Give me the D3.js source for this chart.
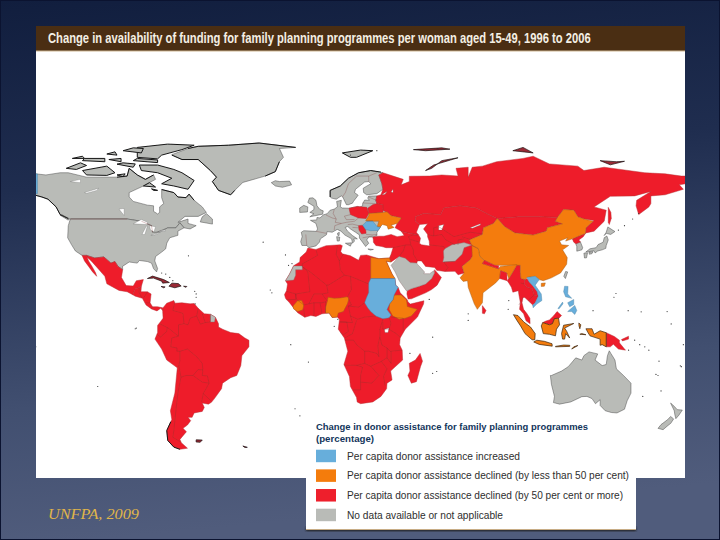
<!DOCTYPE html>
<html><head><meta charset="utf-8">
<script src="https://cdn.jsdelivr.net/npm/d3@7"></script>
<style>html,body{margin:0;padding:0;background:#14213f}svg{display:block}</style>
</head><body><svg id="c" width="720" height="540"></svg>
<script>
// ---------- text and categories ----------
const titleText = "Change in availability of funding for family planning programmes per woman aged 15-49, 1996 to 2006";
const legendTitle = ["Change in donor assistance for family planning programmes", "(percentage)"];
const legendLabels = [
  "Per capita donor assistance increased",
  "Per capita donor assistance declined (by less than 50 per cent)",
  "Per capita donor assistance declined (by 50 per cent or more)",
  "No data available or not applicable"];
const legendWidths = [173, 282, 276, 156];
const legendColors = ["#67aedb", "#f47c0c", "#ee1f2c", "#b9bbb7"];
const sourceText = "UNFPA, 2009";

// ---------- geography: rings of [longitude, latitude] ----------
const grayBase = [
 // Canada
 [[-141,69.6],[-135,69],[-128,70],[-124,70],[-115,68],[-108,68],[-100,68],[-95,68.5],[-94,72],[-90,69],[-86,67],[-82,69],[-81,67],[-87,64],[-94,61],[-94,59],[-92,57],[-85,55.3],[-82,55],[-82,52.5],[-80,51.3],[-79,52],[-79,54.5],[-77,56],[-78,58.7],[-78,62.4],[-72,61],[-70,59],[-66,58.7],[-64.5,60.3],[-62,57.5],[-58,54.5],[-56,52],[-60,50.2],[-66.5,50.2],[-70,47.5],[-65,49],[-65,47],[-61,46],[-64,44.5],[-67,45],[-69,47.3],[-71,45],[-75,45],[-79,43.5],[-83,42],[-82.5,45],[-88,48],[-95,49],[-123,49],[-128,51],[-130,54.5],[-134,58],[-137,59],[-141,60]],
 // USA
 [[-123,49],[-95,49],[-88,48],[-83,46],[-82.5,43],[-79,43],[-75,45],[-71,45],[-69,47.3],[-67,45],[-70,43.5],[-70,41.6],[-74,40.5],[-75.5,38],[-76,35.5],[-78,34],[-81,32],[-81.4,30],[-80,26.5],[-80.5,25],[-82,26.5],[-83,29],[-85,29.7],[-89,30.2],[-90,29],[-94,29.5],[-97.3,27.5],[-97.2,26],[-99.5,27.5],[-101,29.7],[-103,29],[-106.5,31.8],[-111,31.3],[-115,32.5],[-117.2,32.5],[-120.5,34.5],[-122.5,37.5],[-124.3,40.5],[-124,46]],
 [[-59,47.7],[-53,46.7],[-53,49],[-56,51.5],[-58,50]],
 [[-128,50.7],[-124,48.5],[-123.5,49],[-127,50.9]],
 // Greenland, Iceland
 [[-73,78.2],[-68,76],[-60,76],[-54,71],[-51,68],[-53,66],[-50,62],[-44,60],[-42,62],[-38,65.6],[-27,68.5],[-22,70.5],[-20,75],[-18,77],[-20,81],[-12,81.5],[-30,83.5],[-45,82.5],[-60,82],[-65,81]],
 [[-24,65.5],[-22,64],[-18.5,63.4],[-14,64.5],[-15,66.2],[-20,66],[-22,66.4]],
 // Europe
 [[28,59.5],[24,59.4],[23.5,58.5],[24.3,57.5],[22,57.6],[21,56],[21,55],[19.5,54.4],[18.5,54.7],[14.3,53.9],[11,54],[10,54.5],[10.5,57.5],[8.2,57],[8.6,54.5],[7,53.5],[5,53],[3.5,51.4],[1.7,50.9],[0,49.5],[-1.5,49.7],[-1.6,48.6],[-4.7,48.4],[-2,47],[-1.2,44.5],[-1.8,43.4],[-8,43.7],[-9.2,43],[-8.8,41],[-9.5,38.7],[-8.9,37],[-6.5,37],[-5.5,36],[-2,36.8],[-0.3,38.5],[0.2,40],[3.2,41.9],[3.5,43.3],[6,43],[8.5,44.3],[10.3,43.5],[12.3,41.7],[15.6,40],[16,38],[17,39],[16.6,40],[18.4,40],[16,41.5],[13.5,43.6],[12.4,45.2],[13.7,45.6],[15,44.5],[17.5,43],[19.4,41.8],[19.4,40.4],[21,38.4],[22.5,36.5],[24,38],[23,39.5],[24,40.8],[26,40.8],[28.1,41.5],[28,42.8],[28.6,43.8],[29.7,45.2],[30,46],[33,52],[31,55],[28,56],[27.5,57.5]],
 [[5,59],[5,62],[10,64],[14,67.5],[19,70],[25,71],[31,70],[29,69],[30.5,65],[31,62.5],[28,60.5],[23,60],[21.5,61],[21.3,63],[25,65],[24,66],[22,65.8],[17.5,62.5],[17,61],[18.8,59.8],[16.5,57],[16,56.2],[14,55.5],[13,55.5],[11.2,59],[10.5,59.5],[8,58],[5.7,58.5]],
 [[-5,50],[1.3,51.2],[1.6,52.7],[0,53.3],[-1.5,55],[-2,57.5],[-3.5,58.6],[-5.2,58.5],[-6,56.5],[-3,54.8],[-3,53.3],[-5,52],[-3,51.4]],
 [[-10,52],[-6.2,52.2],[-6,54.5],[-8,55.2],[-10,54]],
 [[8.2,41],[9.7,40.8],[9.5,39],[8.5,39]],[[8.6,42.5],[9.5,43],[9.4,41.5],[8.8,41.6]],
 [[12.5,38],[15.6,38.2],[15,36.7]],[[23.6,35.4],[26.3,35.2],[24.8,34.9]],
 // Australia, New Zealand
 [[113.5,-22],[114,-26],[115.5,-31.5],[115,-34.3],[118,-35],[123.5,-34],[129,-31.6],[131.5,-31.5],[134,-32.5],[135.7,-34.8],[138,-33],[138,-35.6],[140.5,-38],[143.5,-38.8],[146.3,-39],[150,-37.3],[151.3,-33.5],[153.2,-30],[153.2,-25.5],[149.5,-22],[146,-19],[145.3,-15],[143.3,-12],[142.5,-10.8],[141.6,-13],[141,-17],[139,-17.5],[135.5,-15],[136.8,-12.2],[132.5,-11.3],[130,-13],[129,-15],[126,-14],[122.3,-18],[119,-20],[114,-22]],
 [[144.7,-40.8],[148.2,-40.9],[148,-43],[146,-43.6],[145,-42]],
 [[172.7,-34.5],[174.5,-36],[176,-37.5],[178.5,-37.7],[176.8,-40],[175.3,-41.6],[174.8,-39.8],[174.5,-38]],
 [[172.7,-40.6],[174.2,-41.7],[172.8,-43.7],[171,-45],[169,-46.6],[166.5,-46],[168,-44.3],[171.3,-42]],
 // Japan, South Korea, Taiwan
 [[130.9,34],[133,35.5],[136,36],[137,37.4],[139.5,38.5],[140,40.5],[141.3,41.3],[142,39.5],[141,37],[140.8,35.7],[139,35],[136.8,34.5],[135.5,33.6],[135,34.6]],
 [[130,33.5],[131.8,33.7],[131.3,31.4],[130.3,31.3]],[[132.5,34],[134.5,34.2],[134,33.3],[132.7,33]],
 [[140,41.5],[141,43],[141.8,45.4],[145.3,43.3],[143.2,42],[141,42.5]],
 [[126,37.8],[128.3,38.6],[129.4,36],[129,35],[126.5,34.4],[126.5,36.5]],
 [[121,25.2],[122,25],[120.9,22],[120.1,23]]
];
const arcticIslands = [
 [[-80,73.5],[-72,71.5],[-68,70],[-62,66.5],[-65,62.5],[-72,64],[-78,65],[-73,67.5],[-80,70],[-88,71],[-89,73.5]],
 [[-117,71],[-105,73],[-101,70],[-105,68.8],[-115,69]],
 [[-125,72],[-118,74.5],[-115,73.3],[-120,71.5]],
 [[-90,77],[-80,76.3],[-78,78],[-68,80.5],[-62,82.5],[-75,83],[-90,81.5]],
 [[-92,75.5],[-80,74.6],[-80,75.8],[-90,76.5]],
 [[-117,75.5],[-106,75],[-106,76.5],[-116,76.5]],
 [[-97,80],[-88,79],[-87,81],[-92,81.3]],
 [[-100,73.9],[-92,72.5],[-91,74],[-97,74.5]],
 [[-87,64],[-81,63.5],[-84,65.5]],
 [[-104,76],[-98,75],[-98,76.5]],
 [[-100,69],[-96,69.5],[-97,68.2]],
 [[-122,76.5],[-116,76.5],[-117,77.5]],
 [[-105,78.5],[-100,78],[-101,79.5]],
 [[-83,62.7],[-80,62],[-82,62]],
 [[11,79],[20,80.3],[26,80],[18,77],[15,77]]
];
const ruggedCoasts = [
 [[-141,60],[-137,59],[-134,58],[-130,54.5],[-128,51],[-124,49.2]],
 [[5,59],[5,62],[10,64],[14,67.5],[19,70],[25,71],[30,70.3]],
 [[-73,78],[-68,76],[-60,76],[-54,71],[-51,68],[-53,66],[-50,62],[-44,60],[-42,62]],
 [[-65,81],[-60,82],[-45,82.5],[-30,83.5],[-12,81.5]],
 [[-27,68.5],[-22,70.5],[-20,75]],
 [[-72,-54.5],[-75,-51.5],[-75.5,-47],[-73.5,-43]],
 [[-69,-55.5],[-72,-54.5]],
 [[-78,62.4],[-72,61],[-70,59],[-66,58.7],[-64.5,60.3],[-62,57.5]],
 [[-100,68],[-95,68.5],[-94,72],[-90,69],[-86,67],[-82,69]]
];
const redRegions = [
 // Russia
 [[28,59.5],[30,60],[31,62.5],[30.5,65],[29,69],[31,70],[41,67],[40,64.5],[44,66],[44,68.4],[54,68.5],[60,69],[68,68.5],[67,72],[73,72.5],[73,68],[75,72.5],[80,73],[87,75],[100,76.5],[105,77.5],[113,74],[127,73],[130,71],[140,72.5],[160,70],[170,69.5],[178,68.5],[180,68.5],[180,65],[177,64.5],[179,62.5],[170,60],[163,59.5],[163,56],[162,54.5],[157,51],[155.7,55],[156,57.5],[163,61.5],[155,59.5],[143,59.3],[135,54.5],[141,53],[140,48],[135,43.5],[131,42.7],[130.7,42.4],[131,45],[135,48.3],[130,49],[127,50],[125,53],[120,53.3],[117,49.7],[108,50],[98,50],[87.3,49.2],[83,51],[77,54],[69,55],[61,54],[59.5,51],[51,51.5],[47,50],[47,48],[49,46.5],[47.5,43],[48.5,41.8],[43,42.7],[40,43.5],[37,45],[38,47],[40,49.5],[35,50.5],[33,52],[31,53],[31,55.5],[28,56],[27.5,57.5]],
 // Turkey to Pakistan and Central Asia
 [[26.3,39.5],[26,40.8],[29,41.2],[31.5,41.2],[35,42],[38,41],[41.5,41.5],[40,43.5],[43,42.7],[48.5,41.8],[49.5,40.3],[49,38],[50,37.3],[54,36.8],[53.8,39],[53,41],[53,42],[51,44.5],[53,46.8],[49,46.5],[47,48],[47,50],[51,51.5],[59.5,51],[61,54],[69,55],[77,54],[83,51],[87.3,49.2],[85.5,47],[80.5,45],[80,42],[73.6,39.5],[74.8,37.2],[78,35.5],[75,32],[74,30.5],[70,27.5],[71,24.5],[68,23.7],[66.5,25.3],[61.6,25.2],[57.5,25.7],[56.5,27],[52,27.5],[50,30],[48,30],[47.7,29],[44.5,29.2],[39,32],[35,29.5],[34.2,31.3],[35,33],[36,36],[32.5,36],[30.5,36.5],[27.5,37],[26.3,38.5]],
 // Mongolia
 [[87.3,49.2],[91,45.5],[96,42.7],[105,41.7],[111.5,43.5],[112,45],[119.5,46.8],[116,48],[117,49.7],[108,50],[98,50]],
 // Yemen and Oman
 [[43,16.5],[45,17.4],[49,18.5],[52,19.5],[55,22],[56.4,24.5],[56.4,26],[59.8,22.5],[57.7,19],[55,17],[52,15.5],[45,12.8],[43.4,12.7],[42.8,15]],
 // Mexico and Baja
 [[-115,32.5],[-111,31.3],[-106.5,31.8],[-103,29],[-101,29.7],[-99.5,27.5],[-97.2,26],[-97.8,22.5],[-95.5,18.8],[-92,18.6],[-90.5,21],[-87,21.5],[-88,18.5],[-89,17.9],[-91,17.2],[-92.2,14.6],[-95,16],[-99,16.6],[-105,19.6],[-106,23],[-109.5,26.7],[-112.7,30],[-114.7,31.7]],
 [[-117.2,32.5],[-116,30],[-114,27.5],[-112,25],[-110,23],[-110.5,24.5],[-112,27],[-114,30],[-114.7,31.7],[-115,32.5]],
 // Central America
 [[-92.2,14.6],[-91,17.2],[-89,17.9],[-88,18.5],[-88.2,16],[-85,16],[-83.2,15],[-83.7,11],[-82.5,9.2],[-80,9.2],[-77.5,8.7],[-77.5,7.5],[-78.5,8.5],[-80.3,7.3],[-83,8.2],[-85.7,10],[-87.5,13],[-91,14]],
 // South America
 [[-77.5,8.5],[-75.5,10.8],[-72,12],[-71.5,10.8],[-68,11],[-64,10.5],[-62,10.7],[-60,8.5],[-57,6],[-54,5.8],[-51.5,4.4],[-50,1.5],[-50,0],[-48,-1],[-44,-2.5],[-40,-3],[-37,-5],[-35,-6],[-35,-9],[-38.5,-13],[-39,-17.5],[-41,-22],[-44,-23],[-48,-25.5],[-48.5,-28],[-52,-32.5],[-53.5,-34.2],[-55,-35],[-58,-34.5],[-57,-36.5],[-58,-38.3],[-62,-39],[-63,-41],[-65,-41],[-63.7,-42.5],[-65.3,-44.5],[-67.5,-46],[-65.8,-47.5],[-69,-51],[-68.3,-52.5],[-65.3,-55],[-69,-55.5],[-72,-54.5],[-75,-51.5],[-75.5,-47],[-73,-42],[-73.7,-38],[-71.5,-30],[-70.3,-18.5],[-75.5,-15],[-78,-10],[-81.3,-5.5],[-80,-2.5],[-80,0.7],[-78.5,2.5],[-77.3,4],[-77.5,7]],
 // Africa
 [[-6,35.8],[-2,35.2],[3,36.9],[10,37.3],[11,36.9],[10.2,34.3],[11,33.2],[15,32.3],[19,30.3],[20,32.5],[23,32.7],[29,31],[32.3,31.2],[34.2,31.3],[34.9,29.5],[32.6,29.9],[33.5,28],[35.5,24],[37,21.5],[37.3,19],[38.5,18],[39.5,15.5],[43,12.4],[43.3,11.5],[44.5,10.4],[51.2,11.9],[51,10.4],[48,4.5],[42,-1],[39.5,-5],[39.2,-8],[40.5,-10.5],[40.7,-15],[36.5,-18.5],[34.8,-20],[35.5,-24],[33,-25.5],[32.8,-28],[30,-31.5],[26,-34],[20,-34.8],[18.3,-34],[18,-32],[15,-27],[14.5,-22.5],[11.8,-17],[13.7,-11],[12,-5],[9,-1],[9.6,3.5],[8.5,4.5],[6,4.3],[4.5,6.3],[1,6],[-2,4.8],[-4.5,5.2],[-7.5,4.4],[-11,6.5],[-13.3,9],[-15,11],[-17,13],[-17.5,14.7],[-16.5,16.5],[-16,19.5],[-17,21],[-15,24],[-13,27.8],[-10,29.5],[-9.8,31.5],[-6.8,34]],
 // Madagascar, Sri Lanka
 [[49.3,-12],[50.5,-15.5],[49.5,-18],[47.5,-24.8],[45,-25.5],[43.3,-22],[44.3,-20],[44,-16.5],[47,-15]],
 [[80,9.7],[81.8,7.5],[81,6],[80,6.2]],
 // Myanmar, Thailand, Cambodia, peninsular Malaysia
 [[92.2,21],[93,22],[95,25],[97,28.3],[98.7,28],[98.7,25],[99,22],[101,21.5],[100.5,19.5],[102,18],[104.5,17.5],[105.5,14.5],[107.5,14],[106,11],[104.8,10],[102.5,12],[100.9,13.4],[100,13.4],[99.5,11],[100.3,8],[102,6],[103.4,4],[103.5,1.5],[101.5,2.8],[100.3,6],[98.3,8],[98.7,11],[98,14.5],[97.7,16.5],[95,15.8],[94.3,18],[93,20]],
 // Laos
 [[101,21.5],[102,22],[103,20.5],[105,18.5],[107,16],[107.5,14],[105.5,14.5],[104.5,17.5],[102,18],[100.5,19.5]],
 // Sakhalin
 [[142,54.3],[143.3,52],[143.5,49.3],[142.5,46.5],[142,47.5],[142,50]],
 // Malaysian Borneo
 [[109.7,2],[111.3,2.7],[113,3.2],[115,5],[116.8,7],[119,5.2],[117.7,4],[115.5,3.8],[114.5,1.5],[113,1]],
 // Papua New Guinea
 [[141,-2.6],[145,-4.3],[147.5,-6],[147.5,-7.2],[150.5,-10.5],[147,-10],[144.5,-7.8],[143,-9],[141,-9]],
 [[148.5,-5.7],[152,-4.2],[152,-5.5],[149,-6.3]],
 // Poland, Belarus, Serbia
 [[14.3,53.9],[18.5,54.7],[23,54.3],[24,51.5],[22.7,49.2],[19,49.5],[15,51]],
 [[23.5,53.9],[26,55.5],[28,56],[31,55.5],[31,53],[31,52],[24,51.5]],
 [[19,46],[21,46.2],[22.5,44.2],[22.7,42.5],[20.5,42.2],[19.2,44]],
 // North Korea
 [[124.3,40],[128,41.5],[130.7,42.4],[129.7,41],[127.5,39.5],[128.3,38.6],[126,37.8],[125,38.5]]
];
const darkRedIslands = [
 [[-85,22],[-82.5,23.1],[-77,21.5],[-74.2,20.2],[-77.5,19.9],[-78,20.8],[-82,22.2]],
 [[-74.4,18.5],[-73,19.9],[-69.8,19.7],[-68.4,18.6],[-71.5,17.8]],
 [[-78.3,18.4],[-76.3,18.2],[-77,17.8]],
 [[-67.2,18.5],[-65.6,18.4],[-66,18]],
 [[-61,-51.2],[-58,-51.3],[-59,-52.3],[-61,-52.2]],
 [[52,71],[56,73.5],[68,76.8],[60,75.5],[55,72]],
 [[46,80.5],[60,81.3],[64,80.7],[52,80]],
 [[95,80],[105,79],[100,81.5]],
 [[138,75.5],[146,75],[150,75.2],[143,73.6]],
 [[-38,-54],[-35.8,-54.6],[-37,-54.7]]
];
const grayOver = [
 [[-17,21],[-15,24],[-13,27.7],[-8.7,27.7],[-8.7,26],[-12,26],[-12,23.5],[-13,21.3]],
 [[60.5,29.5],[61,31.5],[60.8,34.5],[61.5,35.5],[65,37.3],[71,38.3],[74.8,37.2],[71,36],[70,33],[66.5,29.8]],
 [[35,28],[37,30],[39,32],[42,31.2],[44.5,29.2],[47.7,29],[48,28.5],[50,26.5],[51.5,25],[51.2,24.2],[54,24.2],[56,25.5],[56.4,24.5],[55,22],[52,19.5],[49,18.5],[45,17.4],[43,16.5],[42.5,16.5],[39,21],[37,25]],
 [[-54,5.8],[-51.5,4.4],[-52,2.3],[-54,2.3]]
];
const orangeRegions = [
 // China
 [[73.6,39.5],[80,42],[80.5,45],[85.5,47],[87.3,49.2],[91,45.5],[96,42.7],[105,41.7],[111.5,43.5],[112,45],[119.5,46.8],[116,48],[117,49.7],[120,53.3],[125,53],[127,50],[130,49],[134.5,48],[131,45],[130.7,42.4],[128,41.5],[124.3,40],[121,39],[122,40.5],[118,39],[119,37.3],[122.5,37],[119.5,35],[121.8,31.5],[121.5,28.5],[118.5,24.5],[114,22.3],[110,21],[108,21.5],[106,23],[102,22.5],[101,21.5],[99,22],[98.7,25],[98.7,28],[92,28],[88.8,28],[86,28],[81,30.2],[78.7,32],[78,35.5],[74.8,37.2]],
 [[109,19.8],[111,20],[110.5,18.5],[109,18.4]],
 // India
 [[74.8,37],[78,35.5],[78.7,32],[81,30.2],[80,28.8],[88,26.4],[88.8,27.5],[92,27.8],[97,28.3],[95,25],[93,22],[92,24.5],[89,25.5],[88.5,22],[86.5,20],[80.3,15.5],[80,11],[77.5,8],[76,10.5],[73,18],[72.7,21],[70.5,20.7],[69,22.3],[71,24.5],[70,27.5],[74,30.5],[75,32]],
 // Ukraine
 [[22.5,48.2],[24,50.5],[24,51.5],[31,52],[33,52.3],[35,50.5],[40,49.5],[38.2,47.1],[35,46.2],[36.5,45.2],[33.6,44.4],[33,46],[30.8,46.5],[29.7,45.5],[28.2,45.5],[29,48],[26,48]],
 // Egypt, Ethiopia, Nigeria, Guinea
 [[25,31.6],[29,31],[32.3,31.2],[34.2,31.3],[34.9,29.5],[32.6,29.9],[33.5,28],[35.5,24],[37,22],[25,22]],
 [[36.5,14.4],[38,14.5],[40,14.5],[42.5,12.5],[42.8,11],[43,9.3],[47.9,8],[45,5],[42,4],[39,3.5],[35.8,5],[34,8],[34.3,10.5],[36,12.5]],
 [[2.7,6.4],[4.5,6.3],[6,4.3],[8.5,4.5],[9,6.3],[11.5,7],[13.5,10.5],[14.2,12.8],[13.5,13.7],[10,13.2],[7,13],[4,13.5],[3.6,11.7],[2.8,9]],
 [[-13.3,9.5],[-11,12],[-9,12],[-8,10],[-8.5,7.8],[-11,7],[-13,8.2]]
];
const indonesiaRegions = [
 [[95.3,5.6],[97.5,5.2],[100.5,2.2],[103.7,0],[106,-3],[105.8,-5.8],[104.5,-5.8],[101,-3],[98.8,0.5],[97,3]],
 [[105.3,-6.8],[106.8,-6],[110.5,-6.5],[114.3,-7.6],[114.4,-8.7],[108,-7.9]],
 [[109,0.5],[109.7,2],[113,1],[114.5,1.5],[115.5,3.8],[117.5,4],[118,1],[116.5,-1],[116,-4],[113,-3.3],[110,-3]],
 [[119.5,-5.5],[119,-3],[120,0.8],[125,1.6],[120.5,-0.5],[121.5,-1.9],[123,-5],[121,-3],[120.5,-5.5]],
 [[116,-8.8],[120,-8.2],[123,-8.3],[123,-8.8],[116,-9]],[[124,-10],[127,-8.4],[125,-9]],
 [[127.5,1.8],[128.5,1],[128,-0.8],[127.6,0.5]],[[128,-3.3],[131,-3.5],[129,-3]],
 [[131,-0.8],[134,-0.8],[135,-3.3],[138,-1.7],[141,-2.6],[141,-9],[139,-8],[138,-8.3],[138,-5.5],[133,-4],[132,-2.5]]
];
const redOver = [
 [[80,28.8],[81,30.2],[86,28],[88,27.8],[88,26.4]],
 [[88.5,22],[89,25.5],[92,24.5],[92.2,21]]
];
const blueRegions = [
 // Sudan, Romania
 [[25,22],[37,22],[37.3,19],[38.5,18],[36.5,14.5],[36,12.5],[34.3,10.5],[33,7.9],[35,5.4],[34,4.2],[31,3.7],[27.5,5],[25,7],[23.5,8.7],[22,11],[22.8,13],[24,15.7],[24,20]],
 [[21,46.2],[23,48],[26,48],[28.2,45.5],[29.7,45.2],[28.6,43.8],[25,43.7],[22.5,44.2]],
 // Vietnam
 [[102,22.5],[106,23],[108,21.5],[106,19],[109,15],[109.3,12],[106.8,10.4],[105,8.7],[104.8,10],[106,11],[107.5,14],[107,16],[105,18.5],[103,20.5]],
 // Philippines
 [[120.5,18.5],[122.2,18.4],[122,15],[124,13],[121,13.7],[120,16]],
 [[122,7],[125.5,9.8],[126.5,7.5],[125.5,5.7],[124,7]],
 [[122,11],[125,12.5],[125,10.2],[123,9.2]],
 [[117.2,8.4],[119.5,11.3],[119.7,10.5],[117.8,8.3]],
 // Sliver at the left edge of the map
 [[-141,60.5],[-141,69.5],[-139.2,69.5],[-139.2,60.5]]
];
const waterRegions = [
 [[-92,46.8],[-88,48.8],[-85,47.5],[-85,46.5]],
 [[-87.7,42],[-85.5,45.8],[-85,45.8],[-86.3,42]],
 [[-84,46],[-81,45.5],[-81.8,43.2],[-83.5,44]],
 [[-83.3,41.6],[-79,42.9],[-79,42.6],[-82,41.6]],
 [[-79.7,43.3],[-76.3,44],[-76.3,43.4]],
 [[-123,66],[-118,67],[-118,65.5]],[[-116,61],[-109,63],[-110,62],[-115,60.7]],
 [[-99,53.5],[-96.5,53.8],[-96.5,50.6]],
 [[58.5,46],[61,46.5],[60,44],[58.5,44]],[[74,45],[79,46.8],[79,46.3],[75,44.8]],
 [[31.8,-1],[34,-0.5],[33.5,-2.5],[32,-2.5]],
 [[30.5,60],[33,61.5],[32,60.2]],
 [[35,61.3],[36,62.5],[36,61]]
];
const borderLines = [
 [[-123,49],[-95,49]],[[-88,48],[-83,46],[-82.5,43]],
 // South America
 [[-71.5,11.5],[-72.5,7.5],[-67.5,6.2],[-67,1.5],[-69.7,1],[-69.7,-4.2],[-74,-1],[-75.3,-0.2]],[[-78.8,1.4],[-75.3,-0.2],[-75.5,-2],[-78.5,-4.5],[-80.3,-3.4]],
 [[-69.9,-4.2],[-73,-5],[-73.5,-9],[-70.5,-9.5],[-70.5,-11],[-69,-11],[-69,-15],[-69.5,-17.5],[-70.3,-18.3]],[[-69.5,-17.5],[-68.5,-22.8],[-70,-30],[-71,-38],[-72,-47],[-72.5,-50],[-68.5,-52.3]],
 [[-69,-11],[-65.3,-10],[-60.5,-13.7],[-58,-16.5],[-57.7,-19.5],[-60,-19.3],[-62.6,-22],[-66,-22],[-68.5,-22.8]],
 [[-62.6,-22],[-58,-25],[-54.6,-25.5],[-55.5,-22.2],[-58,-22],[-57.7,-19.5]],[[-54.6,-25.5],[-57.5,-30.2],[-53.5,-33.7]],[[-57.5,-30.2],[-58.3,-34]],
 [[-60,8.5],[-60.7,5],[-64,4],[-65,1],[-67,1.5]],[[-60.7,5],[-59,1.3],[-56.5,2],[-58,6]],[[-56.5,2],[-54,2.3],[-54,5.8]],
 // Central America
 [[-89,17.9],[-89.2,15.8]],[[-89.2,15.8],[-87.7,13.2]],[[-85,16],[-87,13]],[[-83.7,11],[-85.7,11]],[[-82.7,9.4],[-83,8.2]],
 // Africa
 [[-2,35],[-1.2,32.5],[-5,30.5],[-8.7,28.7],[-8.7,27.3],[-4.8,25],[3.3,19],[4.2,19],[12,23.5]],[[8.5,36.8],[8,33],[9.5,30],[10,26],[12,23.5],[15,23],[24,19.5]],[[11.5,33.1],[9.5,30]],
 [[-8.7,27.3],[-6,25],[-5,16],[-12,15],[-16.5,16.2]],[[3.3,19],[4,15.5],[1,15],[-3,15],[-5.5,10.5],[-8,10]],[[-12,15],[-12,12.5],[-16.8,12.4]],[[-8,10],[-11.5,12.5],[-12,15]],
 [[15,23],[15.5,17],[13.5,13.7]],[[1,15],[3.6,11.7]],[[-5.5,10.5],[-3,11],[1,11],[3,11.5]],[[-3,11],[-3,5]],[[0,11],[1,6]],[[2.8,11.5],[2.7,6.4]],[[-8,8],[-7.5,4.4]],
 [[14,13],[15.5,10],[14,9.5],[19,9],[22,11]],[[14,9.5],[15,5],[16,2],[9.8,2.3]],[[15,5],[18.5,3.5],[22,4.5],[27.5,5]],[[9.8,2.3],[13.2,2.3],[14,-2],[11.5,-3.5],[10,-2.5]],[[18,3],[16,-3],[12.2,-5]],
 [[12.2,-6],[16.5,-6],[18,-8],[22,-11],[24,-11],[28,-12],[29,-13.5],[28.5,-8.5],[29.5,-4.5],[29.5,-1],[31,3.7]],[[31,2.3],[31,-1],[34,-1],[35,1.8],[34,4.2]],[[34,-1],[37.5,-3],[39.5,-4.7]],[[35,4.5],[41,4],[41,-1.5]],
 [[34.5,-11],[40.4,-10.5]],[[29.5,-4.5],[30.5,-8.2],[33,-9.5],[34.5,-11]],[[33,-9.5],[33,-14],[35,-16.5],[35,-11]],[[30.2,-15.6],[33,-14]],[[30.2,-15.6],[33,-19],[31.3,-22.4],[32,-26.5]],[[22,-11],[22,-16.5],[25,-17.8],[30.2,-15.6]],
 [[11.8,-17.3],[18,-17.4],[22,-16.5]],[[18,-17.4],[21,-18.2],[20,-22],[20,-28.5],[16.5,-28.5]],[[25,-17.8],[29,-22],[25.5,-25.5],[20,-25]],
 // Asia
 [[36,36],[42,37.2],[44.8,37.2],[44.3,39.5],[43.5,41]],[[42,37.2],[41,34.5],[39,32]],[[44.8,37.2],[46,35],[46,33],[48,30]],[[61,29.5],[63,27],[61.6,25.2]],[[53.8,37.3],[61,36.5],[61.5,35.5]],[[66.5,29.8],[61,29.5]],
 [[53,42],[56,41.3],[56,45],[58.5,45.5],[61,44],[66,41],[70,42],[74,43],[80,42.3]],[[56,41.3],[60,42],[62,39.5],[66.5,37.3]],[[70,41],[74,39.7]],[[68,37.2],[68,39.5],[71,40]],
 [[43.5,41],[46,41.8],[48.5,41.8]],[[44.7,39.7],[49,38.5]],
 [[100,13.4],[98,10]],[[98.7,20],[100.5,19.5]],[[102.5,12],[105.5,14.5]],
 // Europe
 [[-1.8,43.4],[3.2,42.5]],[[-6.5,37],[-7,42]],[[3,50.8],[6,49.5],[8,49],[7.5,47.5],[10.5,47],[13,47.5],[17,48],[19,49.5]],[[6.5,51.5],[7,53.3]],[[8,49],[6.5,51.5]],[[15,51],[12,50.3],[13,48.7],[17,48.8]],[[7,44],[7.3,46],[10.5,47]],[[13.7,46.5],[16,46.7],[19,46]],[[16,45.2],[19,45]],[[26,48.2],[23,48]],[[22.7,42],[26,41.8],[28,42]],[[21,40.5],[26,41.3]],[[24,59],[27.5,57.6]],[[21,56.3],[27,56]],[[11,59],[12.5,61],[14,65],[18,68.5],[24,68.5],[28,70]],[[24,66],[24,68.5]]
];
const islandSpecks = [[-155.5,19.5],[-157,21],[-90.5,-0.5],[-91,-0.8],[-109.5,-27],[178,-18],[177.5,-17.6],[167,-15.5],[165.5,-21.5],[166.5,-22],[160,-9],[157.5,-8],[162,-10.5],[155,-6],[-172,-13.7],[-149.5,-17.5],[57.5,-20.2],[55.5,-21],[55.5,-4.6],[73,3],[73,6],[-64.8,32.3],[-15.5,28],[-13.8,28.8],[-23.7,15.5],[-24.5,16.8],[-28,38.5],[-17,32.7],[144.8,13.5],[145.8,15.2],[134.5,7.4],[151.8,7.4],[158.2,6.9],[171,7],[173,1.4],[179,-8],[-175,-21],[-170,-19],[-158,-20],[-145,-15],[-140,-9],[44.3,-12],[-78,24.5],[-76,24],[-74,22.5],[-72.5,21],[-61,15],[-61,13.5],[-61.7,16.2],[-61.5,10.5],[-5.7,-15.9],[-14.4,-8],[7,0.3],[8.8,3.5],[53.8,12.5],[93,12],[92.7,8],[152,-10.5],[147,44],[150,46],[154,49],[157,51.5],[-172,52],[168,-29],[159,-31.5],[70,-49.3],[51,-46.4],[37.5,-46.8],[-9.9,-40.3],[-12.3,-37.1],[58,81],[15,78],[28,80]];

// ---------- scales: longitude and latitude to page ----------
const x = d3.scaleLinear().domain([0, 180]).range([320, 685.4]);
const y = d3.scaleLinear().domain([0, 83.5]).range([327, 143]);
const ring = d3.line().x(d => x(d[0])).y(d => y(d[1]));
const closed = r => ring(r) + "Z";

const svg = d3.select("#c");
const defs = svg.append("defs");
const bg = defs.append("linearGradient").attr("id", "bg").attr("x1", 0).attr("y1", 0).attr("x2", 0.12).attr("y2", 1);
[[0, "#111e3e"], [0.35, "#1f2d4f"], [0.75, "#414f70"], [1, "#505c7c"]].forEach(s => bg.append("stop").attr("offset", s[0]).attr("stop-color", s[1]));
const clip = defs.append("clipPath").attr("id", "mapclip");
clip.append("rect").attr("x", 36).attr("y", 51).attr("width", 649).attr("height", 427);
const blur = defs.append("filter").attr("id", "soft").attr("x", "-10%").attr("y", "-10%").attr("width", "120%").attr("height", "120%");
blur.append("feGaussianBlur").attr("stdDeviation", 0.3);
const sh = defs.append("filter").attr("id", "shadow").attr("x", "-5%").attr("y", "-5%").attr("width", "110%").attr("height", "115%");
sh.append("feGaussianBlur").attr("stdDeviation", 1.2);

svg.append("rect").attr("width", 720).attr("height", 540).attr("fill", "url(#bg)");
svg.append("rect").attr("x", 0.5).attr("y", 0.5).attr("width", 719).attr("height", 539).attr("fill", "none").attr("stroke", "#0b1330");
svg.append("rect").attr("x", 36).attr("y", 51).attr("width", 649).attr("height", 427).attr("fill", "#fff");
svg.append("rect").attr("x", 36).attr("y", 26).attr("width", 649).attr("height", 25).attr("fill", "#4a2e13");
svg.append("rect").attr("x", 36).attr("y", 50.5).attr("width", 649).attr("height", 1).attr("fill", "#cdb692");
const title = svg.append("text").attr("x", 0).attr("y", 0).attr("fill", "#f4efe4")
  .attr("font-family", "'Liberation Sans Narrow','Liberation Sans',sans-serif").attr("font-weight", 700).attr("font-size", 14).text(titleText);
const titleNatural = title.node().getComputedTextLength();
title.attr("transform", `translate(48,43) scale(${543 / titleNatural},1)`);

const map = svg.append("g").attr("clip-path", "url(#mapclip)").attr("filter", "url(#soft)");
function paint(rings, fill, stroke, w) {
  map.append("g").selectAll("path").data(rings).join("path")
    .attr("d", closed).attr("fill", fill).attr("stroke", stroke).attr("stroke-width", w).attr("stroke-linejoin", "round");
}
paint(grayBase, legendColors[3], "#3c3c3c", 0.45);
paint(arcticIslands, legendColors[3], "#161616", 1);
paint(redRegions, legendColors[2], "#b4252c", 0.45);
paint(darkRedIslands, "#9a2a35", "#1c1212", 0.7);
paint(grayOver, legendColors[3], "#8a6a6a", 0.4);
paint(orangeRegions, legendColors[1], "#a05a1a", 0.45);
paint(indonesiaRegions, legendColors[1], "#3a2510", 0.7);
paint(redOver, legendColors[2], "#b4252c", 0.4);
paint(blueRegions, legendColors[0], "#4a7f9f", 0.4);
paint(waterRegions, "#fff", "#555", 0.25);
map.append("g").selectAll("path").data(borderLines).join("path")
  .attr("d", ring).attr("fill", "none").attr("stroke", "#7a2a2a").attr("stroke-opacity", 0.7).attr("stroke-width", 0.4);
map.append("g").selectAll("path").data(ruggedCoasts).join("path")
  .attr("d", ring).attr("fill", "none").attr("stroke", "#161616").attr("stroke-width", 1);
map.append("g").selectAll("circle").data(islandSpecks).join("circle")
  .attr("cx", d => x(d[0])).attr("cy", d => y(d[1])).attr("r", 0.6).attr("fill", "#333");

// legend
svg.append("rect").attr("x", 306).attr("y", 527).attr("width", 330).attr("height", 4).attr("fill", "#1a1a1a").attr("filter", "url(#shadow)");
svg.append("rect").attr("x", 306).attr("y", 416).attr("width", 330).attr("height", 114).attr("fill", "#fff");
svg.append("rect").attr("x", 306).attr("y", 529).attr("width", 330).attr("height", 1).attr("fill", "#c8ad86");
svg.selectAll(".lt").data(legendTitle).join("text").attr("class", "lt")
  .attr("x", 316).attr("y", (d, i) => 429.5 + i * 12).attr("fill", "#12355b")
  .attr("font-family", "'Liberation Sans',sans-serif").attr("font-weight", 700).attr("font-size", 9.5)
  .attr("textLength", (d, i) => i ? 58 : 272).attr("lengthAdjust", "spacingAndGlyphs").text(d => d);
const rowY = d3.scalePoint().domain(legendLabels).range([456, 515]);
svg.selectAll(".sw").data(legendLabels).join("rect").attr("class", "sw")
  .attr("x", 316).attr("y", d => rowY(d) - 6.3).attr("width", 20).attr("height", 12.5).attr("fill", (d, i) => legendColors[i]);
svg.selectAll(".ll").data(legendLabels).join("text").attr("class", "ll")
  .attr("x", 347).attr("y", d => rowY(d) + 3.6).attr("fill", "#2e2e2e")
  .attr("font-family", "'Liberation Sans',sans-serif").attr("font-size", 10)
  .attr("textLength", (d, i) => legendWidths[i]).attr("lengthAdjust", "spacingAndGlyphs").text(d => d);

svg.append("text").attr("x", 48).attr("y", 519).attr("fill", "#e0b64a")
  .attr("font-family", "'Liberation Serif',serif").attr("font-style", "italic").attr("font-size", 15)
  .attr("textLength", 91).attr("lengthAdjust", "spacingAndGlyphs").text(sourceText);
</script></body></html>
